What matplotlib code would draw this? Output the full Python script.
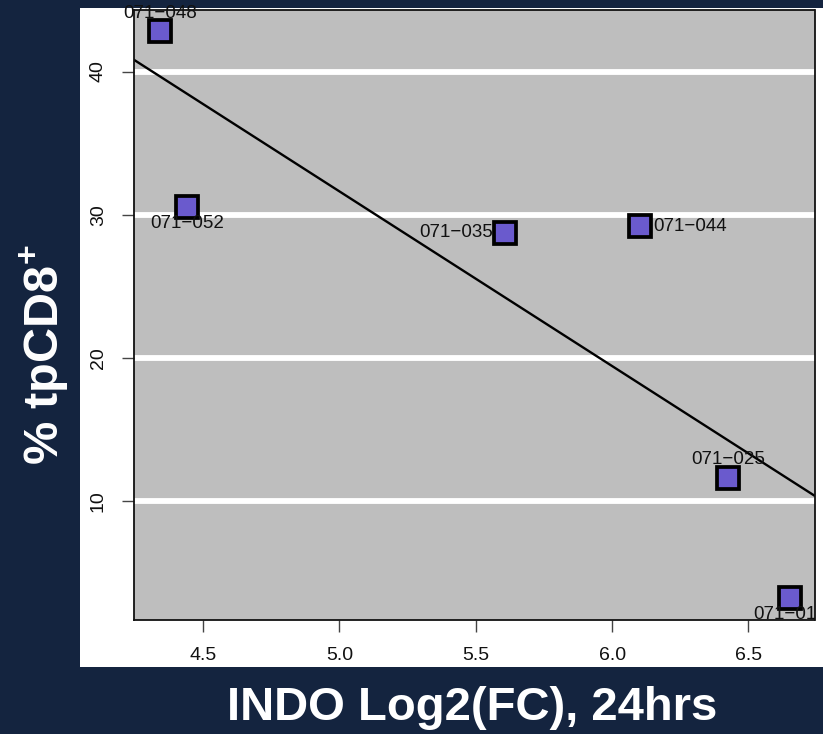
import matplotlib
matplotlib.use("Agg")
import matplotlib.pyplot as plt
import matplotlib.transforms as mtransforms
import numpy as np

plt.rcParams['font.family'] = ['Liberation Sans', 'DejaVu Sans']
plt.rcParams['mathtext.fontset'] = 'custom'
plt.rcParams['mathtext.rm'] = 'Liberation Sans'
plt.rcParams['mathtext.bf'] = 'Liberation Sans:bold'

# data
samples = ['071\u2212048', '071\u2212052', '071\u2212035', '071\u2212044', '071\u2212025', '071\u2212018']
indo_fc = [4.342, 4.441, 5.608, 6.104, 6.426, 6.651]
tpcd8 = [42.8, 30.56, 28.74, 29.2, 11.63, 3.24]
# label side for each point, as in R text(pos=...)
label_pos = ['above', 'below', 'left', 'right', 'above', 'below']

xticks = [4.5, 5.0, 5.5, 6.0, 6.5]
yticks = [10, 20, 30, 40]

navy = '#14243f'
fig = plt.figure(figsize=(8.23, 7.34), dpi=100)
fig.patch.set_facecolor(navy)

# white panel behind the R plot
panel = fig.add_axes([80 / 823, 0.0913, 1 - 80 / 823, 0.9891 - 0.0913])
panel.set_axis_off()
panel.add_patch(plt.Rectangle((0, 0), 1, 1, transform=panel.transAxes,
                              facecolor='white', edgecolor='none'))
panel.set_zorder(0)

ax = fig.add_axes([134 / 823, 0.1553, 680.5 / 823, 0.8311])
ax.set_zorder(1)
ax.set_facecolor('#bebebe')
ax.set_xlim(4.247, 6.742)
ax.set_ylim(1.68, 44.3)

for y in yticks:
    ax.axhline(y, color='white', lw=4.2, zorder=1)

# regression line
slope, icpt = np.polyfit(indo_fc, tpcd8, 1)
xs = np.array(ax.get_xlim())
ax.plot(xs, icpt + slope * xs, color='black', lw=1.7, zorder=2)

ax.plot(indo_fc, tpcd8, ls='none', marker='s', ms=16.5, mfc='#6a5acd',
        mec='black', mew=2.7, zorder=3)

offsets = {'above': (0, 13, 'center', 'center'),
           'below': (0, -12, 'center', 'center'),
           'left': (-8.5, 0, 'right', 'center'),
           'right': (9, 0, 'left', 'center')}
for name, x, y, p in zip(samples, indo_fc, tpcd8, label_pos):
    dx, dy, ha, va = offsets[p]
    tr = ax.transData + mtransforms.ScaledTranslation(dx / 72, dy / 72, fig.dpi_scale_trans)
    t = ax.text(x, y, name, transform=tr, ha=ha, va=va, fontsize=13.5,
                color='#111111', zorder=4)
    # the rightmost label is cut by the plot border in the original
    if x > 6.6:
        t.set_clip_box(ax.bbox)
        t.set_clip_on(True)
    else:
        t.set_clip_on(False)

ax.set_xticks(xticks)
ax.set_xticklabels([f'{v:.1f}' for v in xticks])
ax.set_yticks(yticks)
ax.set_yticklabels([str(v) for v in yticks], rotation=90, va='center')
ax.tick_params(length=8.6, width=1, color='#444444', labelsize=14,
               labelcolor='#111111', pad=11)
for s in ax.spines.values():
    s.set_linewidth(1.3)
    s.set_color('#111111')

fig.text(472 / 823, 1 - 708 / 734, 'INDO Log2(FC), 24hrs', color='white',
         fontsize=34, fontweight='bold', ha='center', va='center')
fig.text(44 / 823, 1 - 355 / 734, r'% tpCD8$^{\mathbf{+}}$', color='white',
         fontsize=35, fontweight='bold', ha='center', va='center', rotation=90)

fig.savefig('out.png', dpi=100, facecolor=navy)
